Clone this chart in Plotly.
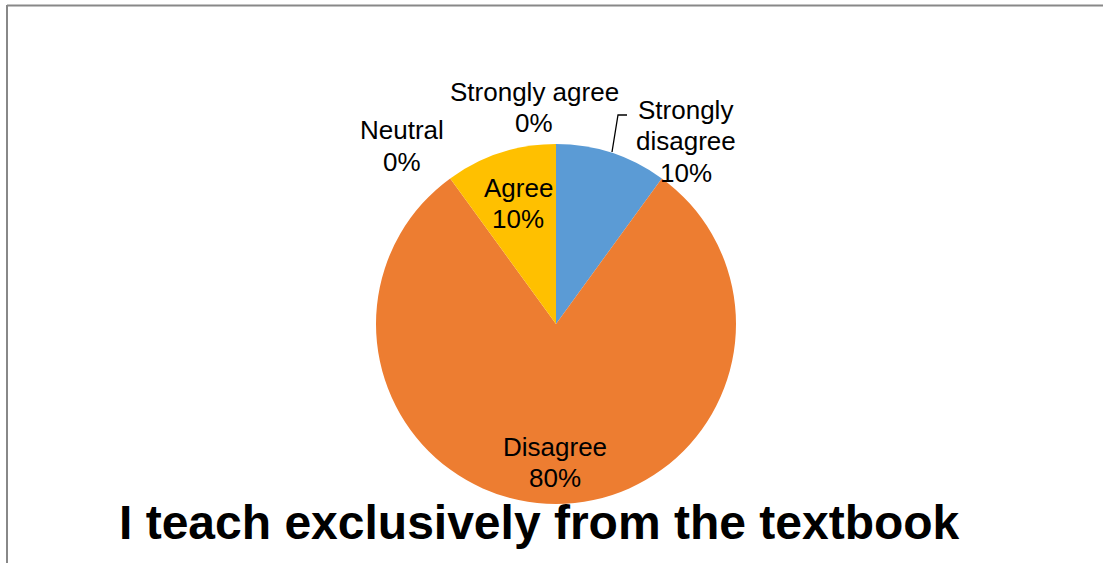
import plotly.graph_objects as go

W, H = 1103, 563

categories = ["Strongly disagree", "Disagree", "Neutral", "Agree", "Strongly agree"]
values = [10, 80, 0, 10, 0]
colors = ["#5B9BD5", "#ED7D31", "#A5A5A5", "#FFC000", "#4472C4"]
title_text = "I teach exclusively from the textbook"

FONT = "Liberation Sans, Arial, sans-serif"


def px(x):
    return x / W


def py(y):
    return 1 - y / H


# pie geometry (pixels)
cx, cy, r = 556, 324, 180

fig = go.Figure()
fig.add_trace(go.Pie(
    labels=categories,
    values=values,
    marker=dict(colors=colors, line=dict(color="white", width=0)),
    sort=False,
    direction="clockwise",
    rotation=0,
    textinfo="none",
    hoverinfo="label+percent",
    showlegend=False,
    domain=dict(x=[px(cx - r), px(cx + r)], y=[py(cy + r), py(cy - r)]),
))

total = sum(values)
pct = {c: f"{round(v * 100 / total)}%" for c, v in zip(categories, values)}

# label line placements: (category, [(line text, x, y), ...])
label_lines = {
    "Strongly agree": [("Strongly agree", 534, 92), (pct["Strongly agree"], 534, 123)],
    "Neutral": [("Neutral", 402, 130), (pct["Neutral"], 402, 162)],
    "Strongly disagree": [("Strongly", 685, 110), ("disagree", 686, 141), (pct["Strongly disagree"], 686, 173)],
    "Agree": [("Agree", 518, 188), (pct["Agree"], 518, 219)],
    "Disagree": [("Disagree", 555, 447), (pct["Disagree"], 555, 478)],
}

annotations = []
for cat, lines in label_lines.items():
    for t, x, y in lines:
        annotations.append(dict(
            text=t, x=px(x), y=py(y), xref="paper", yref="paper",
            xanchor="center", yanchor="middle", showarrow=False,
            font=dict(family=FONT, size=26, color="#000000"),
        ))

annotations.append(dict(
    text="<b>" + title_text + "</b>", x=px(539), y=py(522), xref="paper", yref="paper",
    xanchor="center", yanchor="middle", showarrow=False,
    font=dict(family=FONT, size=48, color="#000000"),
))

shapes = [
    # frame lines
    dict(type="line", xref="paper", yref="paper", x0=px(7), x1=px(1103), y0=py(5.5), y1=py(5.5),
         line=dict(color="#888888", width=2)),
    dict(type="line", xref="paper", yref="paper", x0=px(7), x1=px(7), y0=py(5), y1=py(563),
         line=dict(color="#888888", width=2)),
    # leader line for Strongly disagree
    dict(type="path", xref="paper", yref="paper",
         path=f"M {px(612)} {py(152)} L {px(618)} {py(115)} L {px(627)} {py(115)}",
         line=dict(color="#000000", width=1.3)),
]

fig.update_layout(
    width=W, height=H,
    margin=dict(l=0, r=0, t=0, b=0),
    paper_bgcolor="white", plot_bgcolor="white",
    annotations=annotations,
    shapes=shapes,
    font=dict(family=FONT),
)

fig.write_html("out.html")
